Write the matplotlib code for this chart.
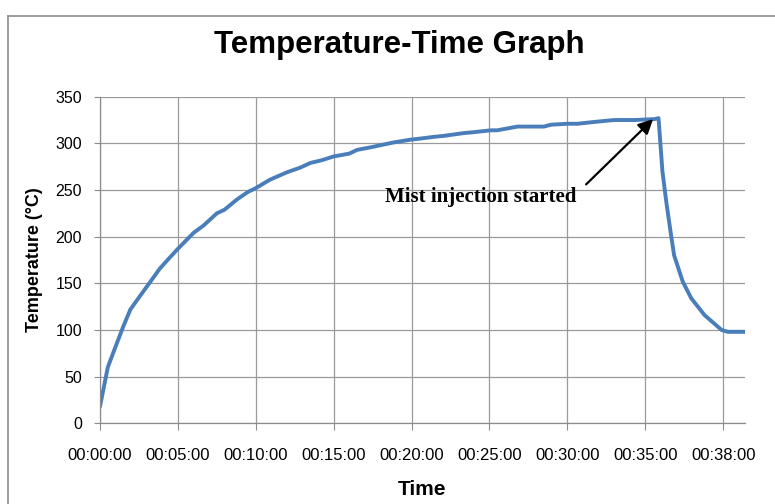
import matplotlib
matplotlib.use("Agg")
import matplotlib.pyplot as plt
from matplotlib.lines import Line2D

# category positions (one unit per labelled tick) and temperature readings
pos = [0.0, 0.10, 0.19, 0.30, 0.39, 0.51, 0.64, 0.77, 0.90, 1.0,
       1.2, 1.33, 1.50, 1.6, 1.76, 1.9, 2.0, 2.18, 2.4, 2.57,
       2.7, 2.85, 3.0, 3.2, 3.3, 3.49, 3.6, 3.77, 3.99, 4.1,
       4.29, 4.41, 4.67, 4.8, 5.02, 5.1, 5.36, 5.57, 5.7, 5.79,
       6.0, 6.13, 6.35, 6.6, 6.86, 7.12, 7.17, 7.22, 7.27, 7.33,
       7.37, 7.48, 7.59, 7.76, 7.98, 8.06, 8.28]
temp = [18, 60, 80, 104, 122, 136, 151, 166, 178, 187,
        204, 212, 225, 229, 240, 248, 252, 261, 269, 274,
        279, 282, 286, 289, 293, 296, 298, 301, 304, 305,
        307, 308, 311, 312, 314, 314, 318, 318, 318, 320,
        321, 321, 323, 325, 325, 326, 327, 270, 237, 202,
        180, 152, 134, 116, 100, 98, 98]

time_labels = ["00:00:00", "00:05:00", "00:10:00", "00:15:00", "00:20:00",
               "00:25:00", "00:30:00", "00:35:00", "00:38:00"]
y_ticks = [0, 50, 100, 150, 200, 250, 300, 350]

note_text = "Mist injection started"
note_tip = (7.1, 326)
note_tail = (6.24, 256)
note_pos = (4.89, 242)

plt.rcParams['font.family'] = ['Liberation Sans', 'DejaVu Sans']

fig = plt.figure(figsize=(7.75, 5.04), dpi=100)
ax = fig.add_axes([100 / 775, 1 - 423.3 / 504, 645 / 775, 326.6 / 504])

ax.plot(pos, temp, color="#4A7EBB", lw=2.8, solid_joinstyle="round",
        solid_capstyle="round")

ax.set_xlim(0, 8.28)
ax.set_ylim(0, 350)
ax.set_xticks(range(len(time_labels)))
ax.set_xticklabels(time_labels, fontsize=12)
ax.set_yticks(y_ticks)
ax.tick_params(axis="y", labelsize=11.5, length=4, color="#8c8c8c", pad=9)
ax.tick_params(axis="x", length=5, color="#8c8c8c", pad=13)

ax.grid(True, color="#9a9a9a", lw=0.9)
ax.set_axisbelow(True)
for s in ["top", "right"]:
    ax.spines[s].set_visible(False)
for s in ["left", "bottom"]:
    ax.spines[s].set_color("#8c8c8c")
    ax.spines[s].set_linewidth(0.9)

ax.set_xlabel("Time", fontsize=15, fontweight="bold", labelpad=12)
ax.set_ylabel("Temperature (°C)", fontsize=13, fontweight="bold", labelpad=9)

fig.text(399 / 775, 1 - 45 / 504, "Temperature-Time Graph", fontsize=22.5,
         fontweight="bold", ha="center", va="center")

ax.annotate("", xy=note_tip, xytext=note_tail,
            arrowprops=dict(arrowstyle="-|>", color="black", lw=1.6,
                            mutation_scale=22, shrinkA=0, shrinkB=0))
ax.text(note_pos[0], note_pos[1], note_text, fontsize=15, fontweight="bold",
        family="Liberation Serif", ha="center", va="center")

# outer chart border (runs off the right and bottom edges)
fig.add_artist(Line2D([8 / 775, 8 / 775], [0, 1 - 16 / 504], color="#8c8c8c", lw=1.2,
                      transform=fig.transFigure))
fig.add_artist(Line2D([8 / 775, 1], [1 - 16 / 504, 1 - 16 / 504], color="#8c8c8c", lw=1.2,
                      transform=fig.transFigure))

fig.savefig("out.png", dpi=100)
